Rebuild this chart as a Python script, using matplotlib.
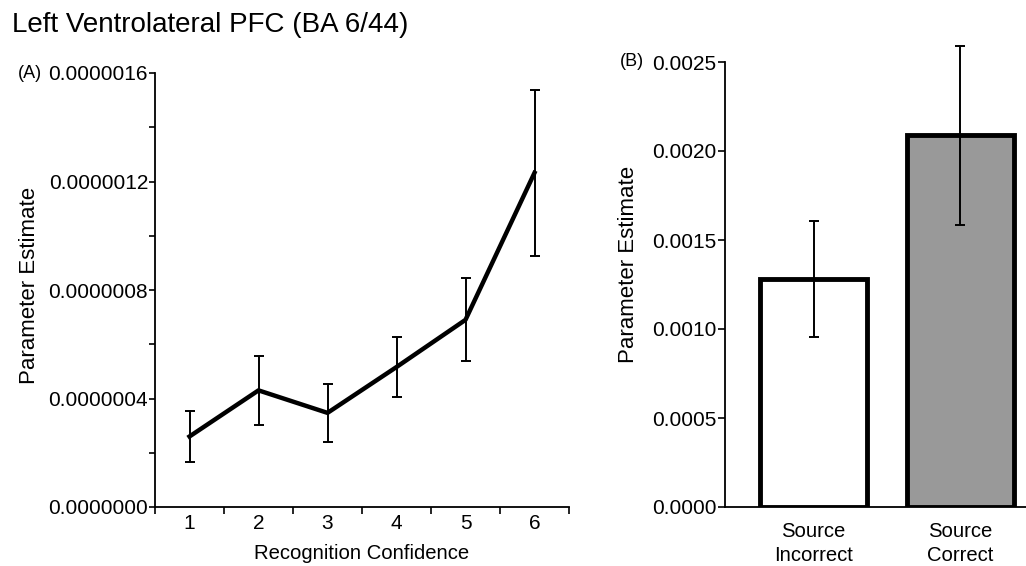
import matplotlib
matplotlib.use("Agg")
import matplotlib.pyplot as plt
import numpy as np
from matplotlib.ticker import MultipleLocator, FixedLocator, FuncFormatter

plt.rcParams['font.family'] = ['Liberation Sans', 'DejaVu Sans']

# Panel A data
confidence = [1, 2, 3, 4, 5, 6]
conf_values = [0.26e-6, 0.43e-6, 0.347e-6, 0.516e-6, 0.69e-6, 1.232e-6]
conf_errors = [0.095e-6, 0.128e-6, 0.107e-6, 0.11e-6, 0.153e-6, 0.306e-6]

# Panel B data
source_labels = ["Source\nIncorrect", "Source\nCorrect"]
source_values = [1.281e-3, 2.088e-3]
source_errors = [0.327e-3, 0.503e-3]
source_colors = ["#ffffff", "#999999"]

W, H = 1026, 566
fig = plt.figure(figsize=(W / 100, H / 100), dpi=100)

FS_TICK = 15
FS_XLAB = 14.6
FS_YLAB = 16

# ---------- Panel A ----------
axA = fig.add_axes([155 / W, (H - 507) / H, 414 / W, 434 / H])
axA.errorbar(confidence, conf_values, yerr=conf_errors, color='black', lw=3.2,
             elinewidth=1.4, capsize=3.5, capthick=1.4, zorder=3)
axA.set_xlim(0.5, 6.5)
axA.set_ylim(0, 1.6e-6)
axA.xaxis.set_major_locator(FixedLocator(np.arange(0.5, 7.0, 1.0)))
axA.xaxis.set_major_formatter(FuncFormatter(lambda v, p: ""))
axA.xaxis.set_minor_locator(FixedLocator(confidence))
axA.xaxis.set_minor_formatter(FuncFormatter(lambda v, p: f"{int(round(v))}"))
axA.tick_params(axis='x', which='minor', length=0, labelsize=FS_TICK, pad=5)
axA.tick_params(axis='x', which='major', length=5, width=1.2, direction='out')
axA.yaxis.set_major_locator(MultipleLocator(0.4e-6))
axA.yaxis.set_minor_locator(MultipleLocator(0.2e-6))
axA.yaxis.set_major_formatter(FuncFormatter(lambda v, p: f"{v:.7f}"))
axA.tick_params(axis='y', which='both', length=4, width=1.2, direction='out',
                labelsize=FS_TICK, pad=1)
for s in ['top', 'right']:
    axA.spines[s].set_visible(False)
for s in ['left', 'bottom']:
    axA.spines[s].set_linewidth(1.3)
axA.set_xlabel("Recognition Confidence", fontsize=FS_XLAB, labelpad=8)
axA.set_ylabel("Parameter Estimate", fontsize=FS_YLAB)
axA.yaxis.set_label_coords(-0.278, 0.511)

# ---------- Panel B ----------
axB = fig.add_axes([725 / W, (H - 507) / H, (W - 725) / W, 445 / H])
xpos = np.arange(len(source_values))
axB.bar(xpos, source_values, width=0.73, color=source_colors, edgecolor='black',
        linewidth=3.5, zorder=2)
axB.errorbar(xpos, source_values, yerr=source_errors, fmt='none', ecolor='black',
             elinewidth=1.4, capsize=3.5, capthick=1.4, zorder=3, clip_on=False)
axB.set_xlim(-0.604, 1.45)
axB.set_ylim(0, 0.0025)
axB.set_xticks(xpos)
axB.set_xticklabels(source_labels, fontsize=FS_XLAB, linespacing=1.3)
axB.tick_params(axis='x', length=0, pad=11)
axB.yaxis.set_major_locator(MultipleLocator(0.0005))
axB.yaxis.set_major_formatter(FuncFormatter(lambda v, p: f"{v:.4f}"))
axB.tick_params(axis='y', length=5, width=1.2, direction='out', labelsize=FS_TICK, pad=1)
for s in ['top', 'right']:
    axB.spines[s].set_visible(False)
for s in ['left', 'bottom']:
    axB.spines[s].set_linewidth(1.3)
axB.set_ylabel("Parameter Estimate", fontsize=FS_YLAB)
axB.yaxis.set_label_coords(-0.286, 0.546)

# Titles and panel letters
fig.text(12 / W, 1 - 32 / H, "Left Ventrolateral PFC (BA 6/44)", fontsize=20,
         ha='left', va='baseline')
fig.text(18 / W, 1 - 73 / H, "(A)", fontsize=13, ha='left', va='center')
fig.text(620 / W, 1 - 62 / H, "(B)", fontsize=13, ha='left', va='center')

fig.savefig("out.png", dpi=100)
